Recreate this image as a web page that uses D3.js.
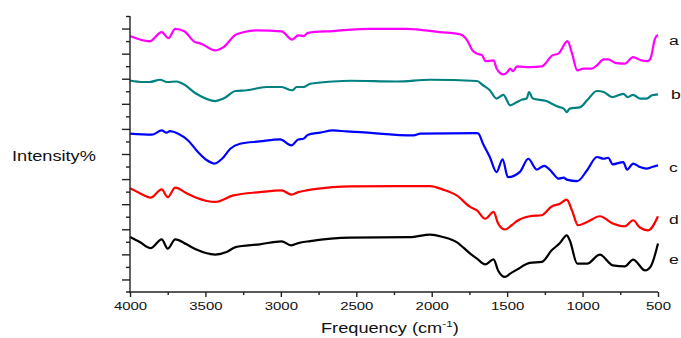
<!DOCTYPE html>
<html>
<head>
<meta charset="utf-8">
<script src="https://cdn.jsdelivr.net/npm/d3@7"></script>
<style>
  body { margin: 0; background: #fff; }
  svg { display: block; font-family: Arial, "Liberation Sans", sans-serif; }
</style>
</head>
<body>
<div id="chart"></div>
<script>
// FTIR spectra: [wavenumber, intensity]
const traceA = [[4000,102.0],[3870,99.9],[3790,103.6],[3745,101.2],[3700,104.9],[3640,103.9],[3570,99.6],[3535,99.1],[3435,96.3],[3380,97.6],[3300,102.5],[3250,103.5],[3160,104.3],[2995,103.9],[2925,100.6],[2885,102.3],[2850,102.0],[2820,103.3],[2655,104.0],[2410,104.9],[2165,104.9],[1945,103.6],[1810,102.7],[1765,100.3],[1730,96.3],[1700,95.0],[1665,94.3],[1645,92.0],[1590,92.3],[1570,89.1],[1525,86.7],[1500,87.6],[1480,89.0],[1460,88.0],[1435,89.9],[1350,89.6],[1270,89.9],[1200,94.3],[1160,95.0],[1100,100.0],[1070,95.1],[1035,88.3],[995,89.0],[940,89.0],[905,90.3],[860,92.7],[830,92.7],[775,91.2],[720,91.0],[665,93.6],[610,92.3],[570,92.0],[550,93.0],[520,101.0],[500,102.5]];
const traceB = [[4000,84.3],[3915,83.7],[3870,83.7],[3800,84.6],[3755,83.7],[3690,83.9],[3650,83.0],[3560,79.0],[3435,76.1],[3380,77.1],[3300,80.1],[3225,80.4],[3095,81.7],[2995,81.7],[2925,80.4],[2895,81.7],[2850,81.7],[2805,83.0],[2655,83.9],[2540,84.2],[2230,83.9],[2010,84.6],[1700,84.1],[1660,82.4],[1615,80.4],[1570,77.1],[1525,78.6],[1480,74.4],[1435,75.7],[1400,76.7],[1370,77.1],[1355,79.7],[1330,77.1],[1240,76.1],[1170,74.0],[1125,73.1],[1105,71.7],[1085,73.1],[1015,73.7],[970,76.4],[905,80.1],[860,79.7],[805,77.7],[730,79.0],[700,77.7],[665,78.6],[620,77.1],[575,77.1],[540,78.4],[500,78.8]];
const traceC = [[4000,63.1],[3855,62.7],[3790,64.4],[3757,63.5],[3735,64.1],[3680,63.1],[3615,60.4],[3550,55.8],[3490,52.5],[3440,51.2],[3390,53.1],[3335,57.1],[3270,59.1],[3140,60.0],[3005,60.8],[2930,58.4],[2885,60.8],[2850,61.1],[2820,62.7],[2740,63.5],[2655,64.4],[2565,64.0],[2475,63.7],[2120,62.4],[2075,63.1],[1700,63.3],[1690,63.1],[1660,59.1],[1615,53.8],[1570,47.8],[1530,52.9],[1495,45.8],[1415,47.9],[1360,53.1],[1303,48.8],[1255,50.3],[1203,47.8],[1160,45.2],[1125,45.6],[1105,44.8],[1035,44.2],[970,48.5],[905,53.8],[860,53.1],[830,53.5],[800,50.9],[730,51.8],[705,48.8],[665,51.2],[620,49.8],[575,49.2],[540,49.8],[500,50.5]];
const traceD = [[4000,41.4],[3935,39.4],[3863,37.6],[3790,40.9],[3750,37.8],[3700,41.6],[3625,39.4],[3560,37.6],[3435,35.9],[3315,38.5],[3140,39.8],[2995,40.5],[2930,38.8],[2885,39.8],[2830,40.5],[2655,41.8],[2540,42.1],[2010,42.2],[1925,40.8],[1835,38.5],[1745,33.9],[1700,32.5],[1645,29.2],[1590,31.9],[1560,27.3],[1515,24.9],[1470,26.6],[1435,28.3],[1350,30.2],[1270,30.6],[1205,34.1],[1150,35.2],[1105,36.8],[1070,32.5],[1030,26.6],[970,27.9],[885,30.2],[800,27.3],[720,26.2],[665,28.6],[620,25.7],[565,24.6],[500,30.2]];
const traceE = [[4000,21.9],[3935,19.9],[3863,17.5],[3790,21.0],[3750,17.3],[3700,21.0],[3625,19.0],[3560,16.9],[3435,14.9],[3360,15.9],[3300,17.9],[3140,19.0],[2995,20.2],[2930,18.6],[2885,19.5],[2805,20.3],[2540,21.7],[2145,21.9],[2010,22.9],[1925,21.9],[1835,19.9],[1745,15.3],[1700,13.3],[1645,11.0],[1590,13.0],[1560,8.6],[1515,6.0],[1480,7.3],[1435,8.9],[1350,11.6],[1270,12.0],[1205,16.6],[1150,19.5],[1105,22.6],[1085,20.6],[1035,11.3],[970,11.3],[885,14.9],[800,10.6],[720,10.2],[665,12.9],[585,8.6],[550,10.0],[500,19.3]];

const seriesNames = ['a', 'b', 'c', 'd', 'e'];
const seriesColors = ['#ff00ff', '#008080', '#0000ff', '#ff0000', '#000000'];
const seriesData = [traceA, traceB, traceC, traceD, traceE];
// label baseline level for each trace, in intensity units
const labelLevels = [98.6, 77.0, 47.8, 27.0, 11.1];

const xMajor = [4000, 3500, 3000, 2500, 2000, 1500, 1000, 500];
const xMinor = [3750, 3250, 2750, 2250, 1750, 1250, 750];
const yMajor = [5, 15, 25, 35, 45, 55, 65, 75, 85, 95, 105];
const yMinor = [10, 20, 30, 40, 50, 60, 70, 80, 90, 100, 110];

const width = 681, height = 338;
const stretch = 1.3; // the original text is widened horizontally

const svg = d3.select('#chart').append('svg')
    .attr('width', width)
    .attr('height', height);

const x = d3.scaleLinear().domain([4000, 500]).range([130, 658]);
const y = d3.scaleLinear().domain([0, 110]).range([292, 16]);

// spectra
const line = d3.line()
    .x(d => x(d[0]))
    .y(d => y(d[1]))
    .curve(d3.curveMonotoneX);

svg.append('g')
  .selectAll('path')
  .data(seriesData)
  .join('path')
    .attr('d', line)
    .attr('fill', 'none')
    .attr('stroke', (d, i) => seriesColors[i])
    .attr('stroke-width', 2.2)
    .attr('stroke-linejoin', 'round');

// y axis: ticks only, no numbers
svg.append('g')
    .attr('transform', `translate(${x(4000)},0)`)
    .call(d3.axisLeft(y).tickValues(yMinor).tickSize(4).tickSizeOuter(0).tickFormat(''))
    .call(g => g.select('.domain').remove());
svg.append('g')
    .attr('transform', `translate(${x(4000)},0)`)
    .call(d3.axisLeft(y).tickValues(yMajor).tickSize(8).tickSizeOuter(0).tickFormat(''))
    .call(g => g.select('.domain').attr('d', `M0,${y(0) + 1}V${y(110)}`));

// x axis
svg.append('g')
    .attr('transform', `translate(0,${y(0)})`)
    .call(d3.axisBottom(x).tickValues(xMinor).tickSize(3).tickFormat(''))
    .call(g => g.select('.domain').remove());
const xAxis = svg.append('g')
    .attr('transform', `translate(0,${y(0)})`)
    .call(d3.axisBottom(x).tickValues(xMajor).tickSize(5).tickSizeOuter(0).tickFormat(d3.format('d')))
    .call(g => g.select('.domain').attr('d', `M${x(4000) - 4},0H${x(500)}`));
xAxis.selectAll('text')
    .attr('y', 0)
    .attr('dy', 0)
    .attr('transform', `translate(0,18) scale(${stretch},1)`)
    .attr('font-size', 11.5)
    .attr('font-family', 'Arial, "Liberation Sans", sans-serif')
    .attr('fill', '#111');

svg.selectAll('.domain, .tick line')
    .attr('stroke', '#222')
    .attr('stroke-width', 1.4);

// axis titles
svg.append('text')
    .attr('transform', `translate(12,160.5) scale(${stretch},1)`)
    .attr('font-size', 14)
    .attr('fill', '#111')
    .text('Intensity%');

const xTitle = svg.append('text')
    .attr('transform', `translate(321,333) scale(${stretch},1)`)
    .attr('font-size', 14)
    .attr('fill', '#111');
xTitle.append('tspan').text('Frequency (cm');
xTitle.append('tspan').attr('font-size', 9).attr('dy', -6).text('-1');
xTitle.append('tspan').attr('dy', 6).text(')');

// trace labels
svg.append('g')
  .selectAll('text')
  .data(seriesNames)
  .join('text')
    .attr('transform', (d, i) => `translate(${i === 1 ? 671 : 669},${y(labelLevels[i])}) scale(${stretch},1)`)
    .attr('font-size', 13.5)
    .attr('fill', '#111')
    .text(d => d);
</script>
</body>
</html>
